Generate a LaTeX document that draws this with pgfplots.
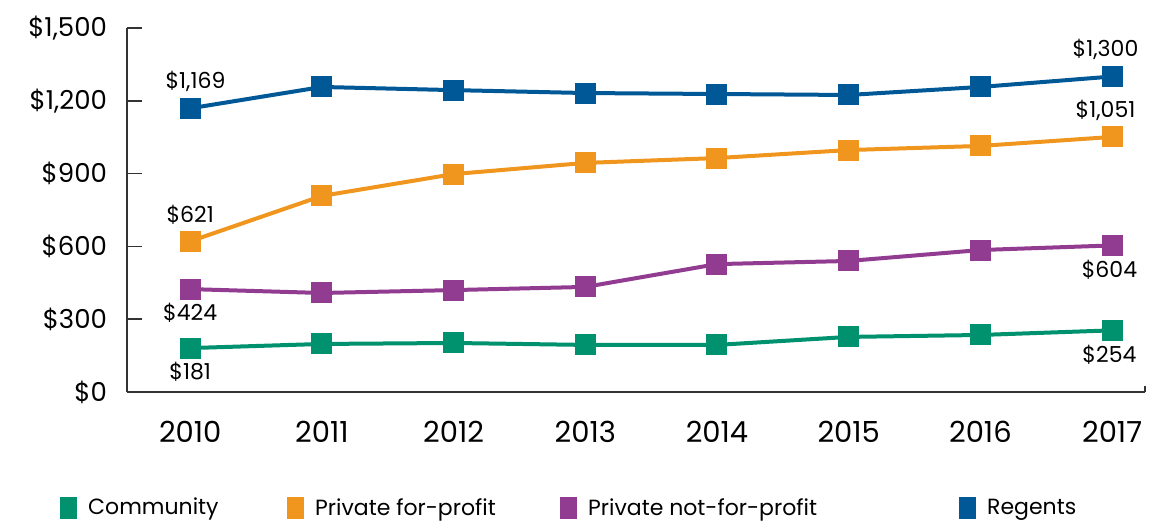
\documentclass[border=0pt]{standalone}
\usepackage{fontspec}
\setmainfont{Poppins}
\usepackage{pgfplots}
\pgfplotsset{compat=1.18}
\definecolor{cReg}{RGB}{0,88,150}
\definecolor{cFP}{RGB}{240,150,30}
\definecolor{cNFP}{RGB}{145,60,145}
\definecolor{cCom}{RGB}{0,145,110}
\begin{document}
\begin{tikzpicture}
\begin{axis}[
  scale only axis,
  width=509pt, height=182pt,
  xmin=2009.52, xmax=2017.25,
  ymin=0, ymax=1500,
  axis x line=bottom, axis y line=left,
  axis line style={-, line width=0.8pt, black!80},
  xtick={2010,2011,...,2017},
  xticklabels={2010,2011,2012,2013,2014,2015,2016,2017},
  xtick style={draw=none},
  xticklabel style={yshift=-11pt, font=\fontsize{14.5}{16}\selectfont},
  ytick={0,300,600,900,1200,1500},
  yticklabels={\$0,\$300,\$600,\$900,{\$1,200},{\$1,500}},
  tick align=inside,
  major tick length=7.5pt,
  ytick style={draw=black!80, line width=0.8pt},
  yticklabel style={xshift=-6.5pt, font=\fontsize{13}{15}\selectfont},
  clip=false,
  legend columns=4,
  legend style={at={(-0.066,-0.319)}, anchor=west, draw=none, fill=none,
    inner sep=0pt, column sep=0pt,
    nodes={inner sep=0pt, anchor=west, font=\fontsize{11}{13}\selectfont}},
  legend image code/.code={\fill[#1,draw=none] (0pt,-5.5pt) rectangle (8.5pt,5.5pt);},
]
\pgfplotsset{series/.style={line width=2pt, mark=square*, mark size=5pt, color=#1, mark options={fill=#1, draw=none, line width=0pt}}}
\addplot[series=cCom] coordinates {
(2010,181)(2011,198)(2012,202)(2013,194)(2014,194)(2015,227)(2016,235)(2017,254)};
\addlegendentry{\hspace{5.5pt}\makebox[99.5pt][l]{Community}}
\addplot[series=cFP] coordinates {
(2010,621)(2011,808)(2012,898)(2013,944)(2014,964)(2015,997)(2016,1014)(2017,1051)};
\addlegendentry{\hspace{5.5pt}\makebox[122.5pt][l]{Private for-profit}}
\addplot[series=cNFP] coordinates {
(2010,424)(2011,408)(2012,420)(2013,433)(2014,527)(2015,540)(2016,585)(2017,604)};
\addlegendentry{\hspace{5.5pt}\makebox[185.5pt][l]{Private not-for-profit}}
\addplot[series=cReg] coordinates {
(2010,1169)(2011,1257)(2012,1244)(2013,1232)(2014,1228)(2015,1224)(2016,1257)(2017,1300)};
\addlegendentry{\hspace{5.5pt}Regents}
% inward y ticks and right-end x tick
\addplot[forget plot, black!80, line width=0.8pt, mark=none] coordinates {(2009.52,300)(2009.634,300)};
\addplot[forget plot, black!80, line width=0.8pt, mark=none] coordinates {(2009.52,600)(2009.634,600)};
\addplot[forget plot, black!80, line width=0.8pt, mark=none] coordinates {(2009.52,900)(2009.634,900)};
\addplot[forget plot, black!80, line width=0.8pt, mark=none] coordinates {(2009.52,1200)(2009.634,1200)};
\addplot[forget plot, black!80, line width=0.8pt, mark=none] coordinates {(2009.52,1500)(2009.634,1500)};
\addplot[forget plot, black!80, line width=0.8pt, mark=none] coordinates {(2017.25,0)(2017.25,25)};
\begin{scope}[every node/.style={font=\fontsize{11}{13}\selectfont, inner sep=0pt}]
\node[anchor=south] at (axis cs:2010.04,1169) [yshift=8pt] {\$1,169};
\node[anchor=south] at (axis cs:2010,621) [yshift=8pt] {\$621};
\node[anchor=north] at (axis cs:2010,424) [yshift=-7pt] {\$424};
\node[anchor=north] at (axis cs:2010,181) [yshift=-7pt] {\$181};
\node[anchor=south] at (axis cs:2016.95,1300) [yshift=8pt] {\$1,300};
\node[anchor=south] at (axis cs:2016.95,1051) [yshift=8pt] {\$1,051};
\node[anchor=north] at (axis cs:2016.98,604) [yshift=-7pt] {\$604};
\node[anchor=north] at (axis cs:2016.98,254) [yshift=-7pt] {\$254};
\end{scope}
\end{axis}
\pgfresetboundingbox
\path ([xshift=-63.5pt,yshift=-66.5pt]current axis.south west) rectangle ([xshift=12.5pt,yshift=14pt]current axis.north east);
\end{tikzpicture}
\end{document}
